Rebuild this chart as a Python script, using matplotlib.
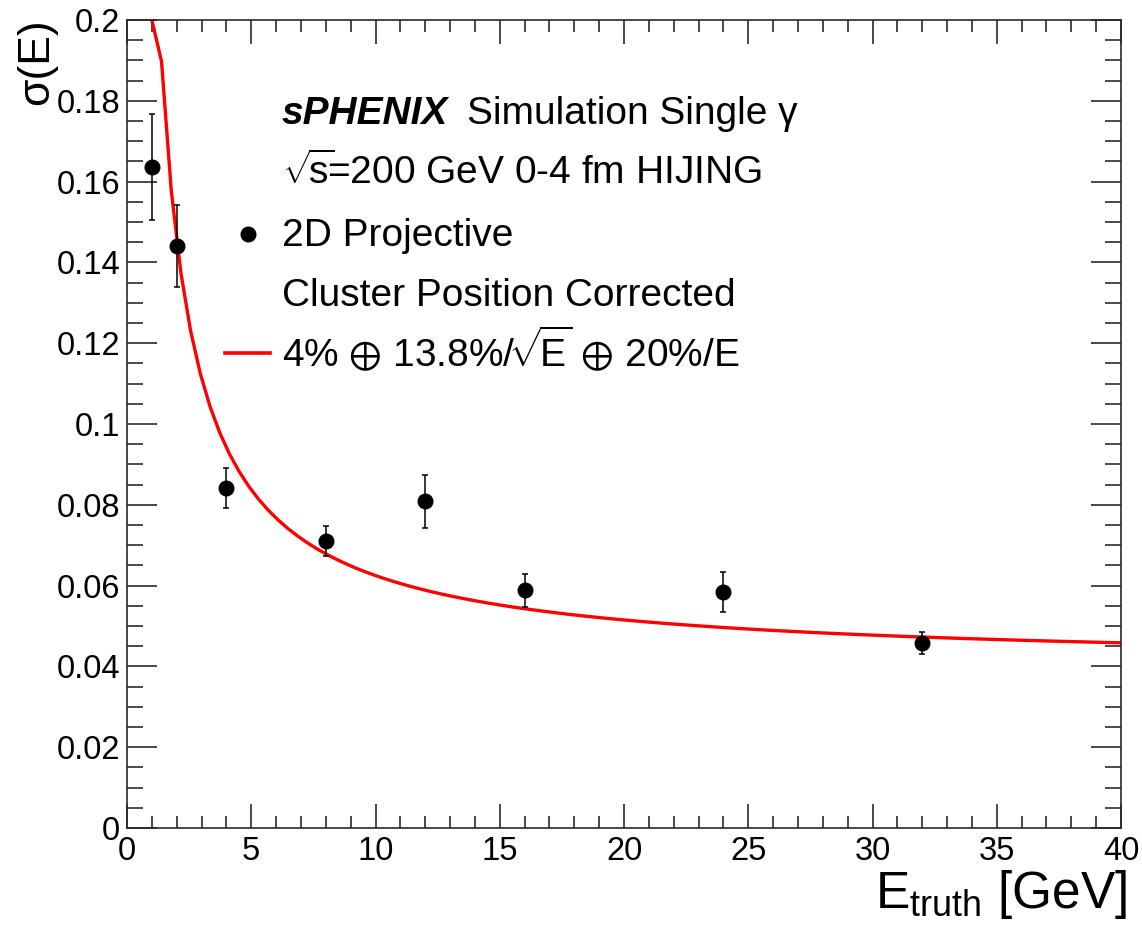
import numpy as np
import matplotlib
matplotlib.use("Agg")
import matplotlib.pyplot as plt
from matplotlib.ticker import MultipleLocator, FuncFormatter
from matplotlib.lines import Line2D

plt.rcParams['font.family'] = ['Liberation Sans', 'DejaVu Sans']
plt.rcParams['mathtext.fontset'] = 'custom'
plt.rcParams['mathtext.rm'] = 'Liberation Sans'
plt.rcParams['mathtext.it'] = 'Liberation Sans:italic'
plt.rcParams['mathtext.bf'] = 'Liberation Sans:bold'

# ---- data ----
energy = [1, 2, 4, 8, 12, 16, 24, 32]
sigma = [0.1637, 0.1440, 0.0841, 0.0710, 0.0809, 0.0588, 0.0584, 0.0458]
sigma_err = [0.0131, 0.0102, 0.0050, 0.0037, 0.0066, 0.0041, 0.0049, 0.0027]

# fit parameters quoted in the legend: 4% (+) 13.8%/sqrt(E) (+) 20%/E
fit_const = 0.04
fit_stoch = 0.138
fit_noise = 0.20
fit_range = (1.0, 40.0)

x_ticks = [0, 5, 10, 15, 20, 25, 30, 35, 40]
y_ticks = [0, 0.02, 0.04, 0.06, 0.08, 0.1, 0.12, 0.14, 0.16, 0.18, 0.2]

W, H = 1142, 927
fig = plt.figure(figsize=(W / 100, H / 100), dpi=100)
L, R, T, B = 127, 1121, 20, 828
ax = fig.add_axes([L / W, 1 - B / H, (R - L) / W, (B - T) / H])
ax.set_xlim(0, 40)
ax.set_ylim(0, 0.2)

# fit curve (ROOT-style sampling, clamped to frame)
e_fit = np.linspace(fit_range[0], fit_range[1], 101)
s_fit = np.sqrt(fit_const**2 + fit_stoch**2 / e_fit + fit_noise**2 / e_fit**2)
ymax = ax.get_ylim()[1]
ax.plot(e_fit, np.minimum(s_fit, ymax), color='#ff0000', lw=2.4, zorder=2,
        solid_joinstyle='round')

ax.errorbar(energy, sigma, yerr=sigma_err, fmt='o', color='black', ms=10.5,
            elinewidth=1.1, capsize=2.2, capthick=1.1, zorder=3)

axis_col = '#2a2a2a'
for s in ax.spines.values():
    s.set_color(axis_col)
    s.set_linewidth(1.2)

ax.set_xticks(x_ticks)
ax.set_yticks(y_ticks)
ax.xaxis.set_minor_locator(MultipleLocator(1))
ax.yaxis.set_minor_locator(MultipleLocator(0.005))
fmt = FuncFormatter(lambda v, p: format(round(v, 4), 'g'))
ax.xaxis.set_major_formatter(fmt)
ax.yaxis.set_major_formatter(fmt)

ax.tick_params(axis='both', which='both', direction='in', top=True, right=True,
               color=axis_col, width=1.2, labelcolor='black')
ax.tick_params(axis='x', which='major', length=17, labelsize=23.5, pad=6)
ax.tick_params(axis='x', which='minor', length=8.6)
ax.tick_params(axis='y', which='major', length=21.6, labelsize=23.5, pad=5)
ax.tick_params(axis='y', which='minor', length=11.5)

# axis titles
fig.text(37 / W, 1 - 18 / H, 'σ(E)', rotation=90, ha='center', va='top',
         fontsize=32)
fig.text(1127 / W, 1 - 908 / H, r'$\mathregular{E_{truth}}$ [GeV]', ha='right',
         va='baseline', fontsize=37)

# annotation and legend
tx = 282 / W
fs = 28
fig.text(tx, 1 - 124 / H, 'sPHENIX', fontsize=fs, fontweight='bold',
         style='italic', va='baseline')
fig.text(467 / W, 1 - 124 / H, 'Simulation Single γ', fontsize=fs, va='baseline')
fig.text(tx, 1 - 184 / H, r'$\mathregular{\sqrt{\!s}\!}$=200 GeV 0-4 fm HIJING',
         fontsize=fs, va='baseline')
fig.text(tx, 1 - 246 / H, '2D Projective', fontsize=fs, va='baseline')
fig.text(tx, 1 - 306 / H, 'Cluster Position Corrected', fontsize=fs, va='baseline')
fig.text(tx, 1 - 366 / H,
         r'4% $\mathregular{\oplus}$ 13.8%/$\mathregular{\!\sqrt{\!E}}$ $\mathregular{\oplus}$ 20%/E',
         fontsize=fs, va='baseline')

fig.add_artist(Line2D([248 / W], [1 - 234 / H], marker='o', color='black',
                      ms=10.5, linestyle='none', transform=fig.transFigure))
fig.add_artist(Line2D([225 / W, 270 / W], [1 - 353 / H, 1 - 353 / H],
                      color='#ff0000', lw=2.6, transform=fig.transFigure))

fig.savefig('out.png', dpi=100, facecolor='white')
